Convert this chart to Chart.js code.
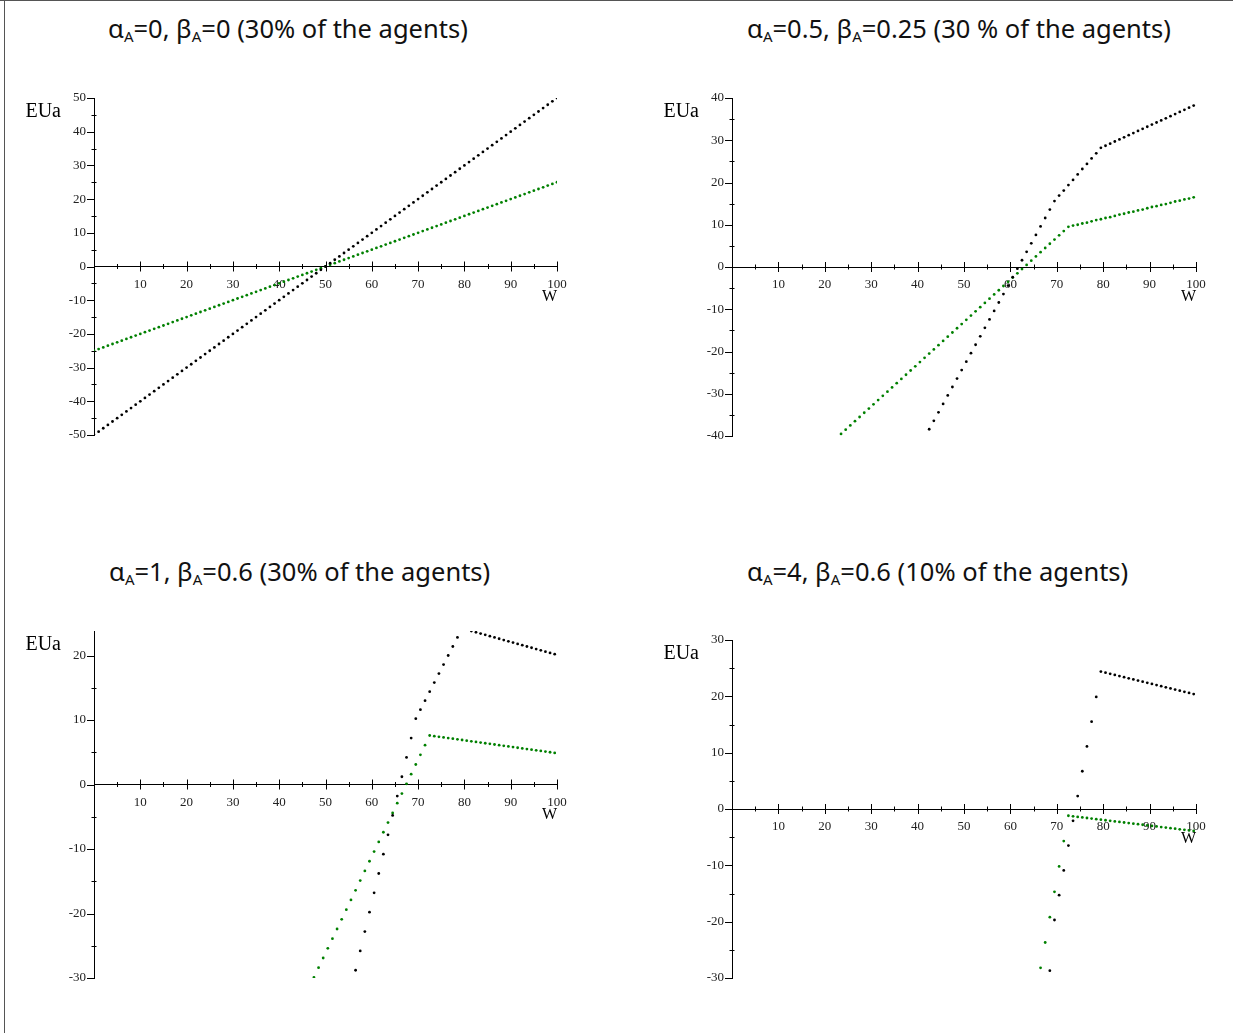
<!DOCTYPE html>
<html>
<head>
<meta charset="utf-8">
<script src="https://cdn.jsdelivr.net/npm/chart.js@4.4.1/dist/chart.umd.min.js"></script>
<style>
  body { margin: 0; background: #fff; width: 1233px; height: 1033px; position: relative; overflow: hidden; }
  .frame-top { position: absolute; left: 0; top: 0; width: 1233px; height: 0; border-top: 1.5px solid #555; }
  .frame-left { position: absolute; left: 4px; top: 0; width: 0; height: 1033px; border-left: 1.5px solid #555; }
  .title { position: absolute; font-family: "Noto Sans", sans-serif; font-size: 25.5px; line-height: 34px; color: #111; white-space: nowrap; }
  .title sub { font-size: 15px; vertical-align: -4px; line-height: 0; }
  canvas { position: absolute; }
</style>
</head>
<body>
<div class="frame-top"></div>
<div class="frame-left"></div>

<div class="title" style="left:108px; top:11px">α<sub>A</sub>=0, β<sub>A</sub>=0 (30% of the agents)</div>
<div class="title" style="left:747px; top:11px">α<sub>A</sub>=0.5, β<sub>A</sub>=0.25 (30 % of the agents)</div>
<div class="title" style="left:109px; top:554px">α<sub>A</sub>=1, β<sub>A</sub>=0.6 (30% of the agents)</div>
<div class="title" style="left:747px; top:554px">α<sub>A</sub>=4, β<sub>A</sub>=0.6 (10% of the agents)</div>

<canvas id="p1" width="616" height="440" style="left:0; top:60px"></canvas>
<canvas id="p2" width="617" height="440" style="left:616px; top:60px"></canvas>
<canvas id="p3" width="616" height="443" style="left:0; top:590px"></canvas>
<canvas id="p4" width="617" height="443" style="left:616px; top:590px"></canvas>

<script>
// W values of the plotted points, per panel
const W1 = [0,1,2,3,4,5,6,7,8,9,10,11,12,13,14,15,16,17,18,19,20,21,22,23,24,25,26,27,28,29,30,
  31,32,33,34,35,36,37,38,39,40,41,42,43,44,45,46,47,48,49,50,51,52,53,54,55,56,57,58,59,60,
  61,62,63,64,65,66,67,68,69,70,71,72,73,74,75,76,77,78,79,80,81,82,83,84,85,86,87,88,89,90,
  91,92,93,94,95,96,97,98,99,100];
const W2 = [22.5,23.5,24.5,25.5,26.5,27.5,28.5,29.5,30.5,31.5,32.5,33.5,34.5,35.5,36.5,37.5,38.5,39.5,40.5,
  41.5,42.5,43.5,44.5,45.5,46.5,47.5,48.5,49.5,50.5,51.5,52.5,53.5,54.5,55.5,56.5,57.5,58.5,59.5,60.5,
  61.5,62.5,63.5,64.5,65.5,66.5,67.5,68.5,69.5,70.5,71.5,72.5,73.5,74.5,75.5,76.5,77.5,78.5,79.5,80.5,
  81.5,82.5,83.5,84.5,85.5,86.5,87.5,88.5,89.5,90.5,91.5,92.5,93.5,94.5,95.5,96.5,97.5,98.5,99.5];
const W3 = [47.5,48.5,49.5,50.5,51.5,52.5,53.5,54.5,55.5,56.5,57.5,58.5,59.5,60.5,
  61.5,62.5,63.5,64.5,65.5,66.5,67.5,68.5,69.5,70.5,71.5,72.5,73.5,74.5,75.5,76.5,77.5,78.5,79.5,80.5,
  81.5,82.5,83.5,84.5,85.5,86.5,87.5,88.5,89.5,90.5,91.5,92.5,93.5,94.5,95.5,96.5,97.5,98.5,99.5];
const W4 = [66.5,67.5,68.5,69.5,70.5,71.5,72.5,73.5,74.5,75.5,76.5,77.5,78.5,79.5,80.5,
  81.5,82.5,83.5,84.5,85.5,86.5,87.5,88.5,89.5,90.5,91.5,92.5,93.5,94.5,95.5,96.5,97.5,98.5,99.5];

// EUa, black series
const P1_BLACK = [-50,-49,-48,-47,-46,-45,-44,-43,-42,-41,-40,-39,-38,-37,-36,-35,-34,-33,-32,-31,-30,
  -29,-28,-27,-26,-25,-24,-23,-22,-21,-20,-19,-18,-17,-16,-15,-14,-13,-12,-11,-10,-9,-8,-7,-6,-5,-4,-3,-2,-1,0,
  1,2,3,4,5,6,7,8,9,10,11,12,13,14,15,16,17,18,19,20,21,22,23,24,25,26,27,28,29,30,
  31,32,33,34,35,36,37,38,39,40,41,42,43,44,45,46,47,48,49,50];
const P2_BLACK = [null,null,null,null,null,null,null,null,null,null,null,null,null,null,null,null,null,null,null,
  -40.4,-38.4,-36.4,-34.4,-32.4,-30.4,-28.4,-26.4,-24.4,-22.4,-20.4,-18.4,-16.4,-14.4,-12.4,-10.4,-8.4,-6.4,-4.4,-2.4,
  -0.4,1.6,3.6,5.6,7.6,9.6,11.6,13.6,15.6,16.9,18.1,19.4,20.6,21.9,23.2,24.4,25.7,26.9,28.2,28.7,
  29.2,29.7,30.2,30.7,31.2,31.7,32.2,32.7,33.2,33.7,34.2,34.7,35.2,35.7,36.2,36.7,37.2,37.7,38.2];
const P3_BLACK = [null,null,null,null,null,null,null,null,null,-28.8,-25.8,-22.8,-19.8,-16.8,
  -13.8,-10.8,-7.8,-4.8,-1.8,1.2,4.2,7.2,10.2,11.6,13.0,14.4,15.8,17.2,18.6,20.0,21.4,22.8,24.2,24.0,
  23.8,23.6,23.4,23.2,23.0,22.8,22.6,22.4,22.2,22.0,21.8,21.6,21.4,21.2,21.0,20.8,20.6,20.4,20.2];
const P4_BLACK = [null,null,-28.7,-19.7,-15.3,-10.9,-6.5,-2.1,2.3,6.7,11.1,15.5,19.9,24.4,24.2,
  24.0,23.8,23.6,23.4,23.2,23.0,22.8,22.6,22.4,22.2,22.0,21.8,21.6,21.4,21.2,21.0,20.8,20.6,20.4];

// EUa, green series
const P1_GREEN = [-25,-24.5,-24,-23.5,-23,-22.5,-22,-21.5,-21,-20.5,-20,-19.5,-19,-18.5,-18,-17.5,-17,-16.5,-16,-15.5,-15,
  -14.5,-14,-13.5,-13,-12.5,-12,-11.5,-11,-10.5,-10,-9.5,-9,-8.5,-8,-7.5,-7,-6.5,-6,-5.5,-5,-4.5,-4,-3.5,-3,-2.5,-2,-1.5,-1,-0.5,0,
  0.5,1,1.5,2,2.5,3,3.5,4,4.5,5,5.5,6,6.5,7,7.5,8,8.5,9,9.5,10,10.5,11,11.5,12,12.5,13,13.5,14,14.5,15,
  15.5,16,16.5,17,17.5,18,18.5,19,19.5,20,20.5,21,21.5,22,22.5,23,23.5,24,24.5,25];
const P2_GREEN = [-40.5,-39.5,-38.5,-37.5,-36.5,-35.5,-34.5,-33.5,-32.5,-31.5,-30.5,-29.5,-28.5,-27.5,-26.5,-25.5,-24.5,-23.5,-22.5,
  -21.5,-20.5,-19.5,-18.5,-17.5,-16.5,-15.5,-14.5,-13.5,-12.5,-11.5,-10.5,-9.5,-8.5,-7.5,-6.5,-5.5,-4.5,-3.5,-2.5,
  -1.5,-0.5,0.5,1.5,2.5,3.5,4.5,5.5,6.5,7.5,8.5,9.5,9.8,10.0,10.3,10.5,10.8,11.1,11.3,11.6,
  11.8,12.1,12.4,12.6,12.9,13.1,13.4,13.6,13.9,14.2,14.4,14.7,14.9,15.2,15.5,15.7,16.0,16.2,16.5];
const P3_GREEN = [-29.9,-28.4,-26.9,-25.4,-23.9,-22.4,-20.9,-19.4,-17.9,-16.4,-14.9,-13.4,-11.9,-10.4,
  -8.9,-7.4,-5.9,-4.4,-2.9,-1.4,0.1,1.6,3.1,4.6,6.1,7.6,7.5,7.4,7.3,7.2,7.1,7.0,6.9,6.8,
  6.7,6.6,6.5,6.4,6.3,6.2,6.1,6.0,5.9,5.8,5.7,5.6,5.5,5.4,5.3,5.2,5.1,5.0,4.9];
const P4_GREEN = [-28.2,-23.7,-19.2,-14.7,-10.2,-5.7,-1.2,-1.3,-1.4,-1.5,-1.6,-1.7,-1.8,-1.9,-2.0,
  -2.1,-2.2,-2.3,-2.4,-2.5,-2.6,-2.7,-2.8,-2.9,-3.0,-3.1,-3.2,-3.3,-3.4,-3.5,-3.6,-3.7,-3.8,-3.9];

// axis ranges
const P1_RANGE = [-50, 50];
const P2_RANGE = [-40, 40];
const P3_RANGE = [-30, 23.8];
const P4_RANGE = [-30, 30];

const serif = '"Liberation Serif", "DejaVu Serif", serif';

function points(ws, ys) {
    return ws.map((w, i) => ({x: w, y: ys[i]}));
}

// Maple style tick marks, y labels and axis names
const axisMarks = {
    id: 'axisMarks',
    afterDraw(chart) {
        const {ctx, chartArea, scales: {x, y}} = chart;
        const x0 = x.getPixelForValue(0);
        const y0 = y.getPixelForValue(0);
        ctx.save();
        ctx.strokeStyle = '#000';
        ctx.lineWidth = 1;
        ctx.beginPath();
        x.ticks.forEach(t => {
            if (t.value === 0) return;
            const px = Math.round(x.getPixelForValue(t.value)) + 0.5;
            const len = t.value % 10 === 0 ? 5 : 2.5;
            ctx.moveTo(px, y0 - len);
            ctx.lineTo(px, y0 + len);
        });
        y.ticks.forEach(t => {
            const py = Math.round(y.getPixelForValue(t.value)) + 0.5;
            if (t.value % 10 === 0) {
                ctx.moveTo(x0 - 7, py);
                ctx.lineTo(x0 + 1, py);
            } else {
                ctx.moveTo(x0 - 2.5, py);
                ctx.lineTo(x0 + 2.5, py);
            }
        });
        ctx.stroke();

        // y tick labels, left of the tick marks
        ctx.fillStyle = '#222';
        ctx.font = '13px ' + serif;
        ctx.textAlign = 'right';
        ctx.textBaseline = 'middle';
        y.ticks.forEach(t => {
            if (t.value % 10 !== 0) return;
            ctx.fillText(String(t.value), x0 - 8, y.getPixelForValue(t.value));
        });

        ctx.fillStyle = '#000';
        ctx.textBaseline = 'alphabetic';
        ctx.font = '20px ' + serif;
        ctx.fillText('EUa', x0 - 33, chartArea.top + 19);
        ctx.font = '16px ' + serif;
        ctx.fillText('W', x.getPixelForValue(100), y0 + 34);
        ctx.restore();
    }
};

function makePanel(id, ws, black, green, range, pad) {
    new Chart(document.getElementById(id), {
        type: 'scatter',
        data: {
            datasets: [
                {data: points(ws, black), backgroundColor: '#000', clip: 0},
                {data: points(ws, green), backgroundColor: '#008000', clip: 0}
            ]
        },
        options: {
            responsive: false,
            animation: false,
            devicePixelRatio: 1,
            layout: {padding: pad},
            elements: {point: {radius: 1.4, borderWidth: 0, hoverRadius: 1.4}},
            plugins: {legend: {display: false}, tooltip: {enabled: false}},
            scales: {
                x: {
                    type: 'linear', min: 0, max: 100,
                    position: {y: 0},
                    grid: {display: false, drawTicks: true, tickLength: 5},
                    border: {display: true, color: '#000', width: 1},
                    ticks: {
                        stepSize: 5, autoSkip: false, maxRotation: 0, padding: 5,
                        color: '#222', font: {family: serif, size: 13},
                        callback: v => (v !== 0 && v % 10 === 0) ? String(v) : ''
                    }
                },
                y: {
                    type: 'linear', min: range[0], max: range[1],
                    position: {x: 0},
                    grid: {display: false},
                    border: {display: true, color: '#000', width: 1},
                    ticks: {display: false, stepSize: 5, autoSkip: false, includeBounds: false}
                }
            }
        },
        plugins: [axisMarks]
    });
}

makePanel('p1', W1, P1_BLACK, P1_GREEN, P1_RANGE, {left: 94, right: 59, top: 38, bottom: 65});
makePanel('p2', W2, P2_BLACK, P2_GREEN, P2_RANGE, {left: 116, right: 37, top: 38, bottom: 64});
makePanel('p3', W3, P3_BLACK, P3_GREEN, P3_RANGE, {left: 94, right: 59, top: 41, bottom: 55});
makePanel('p4', W4, P4_BLACK, P4_GREEN, P4_RANGE, {left: 116, right: 37, top: 50, bottom: 55});
</script>
</body>
</html>
